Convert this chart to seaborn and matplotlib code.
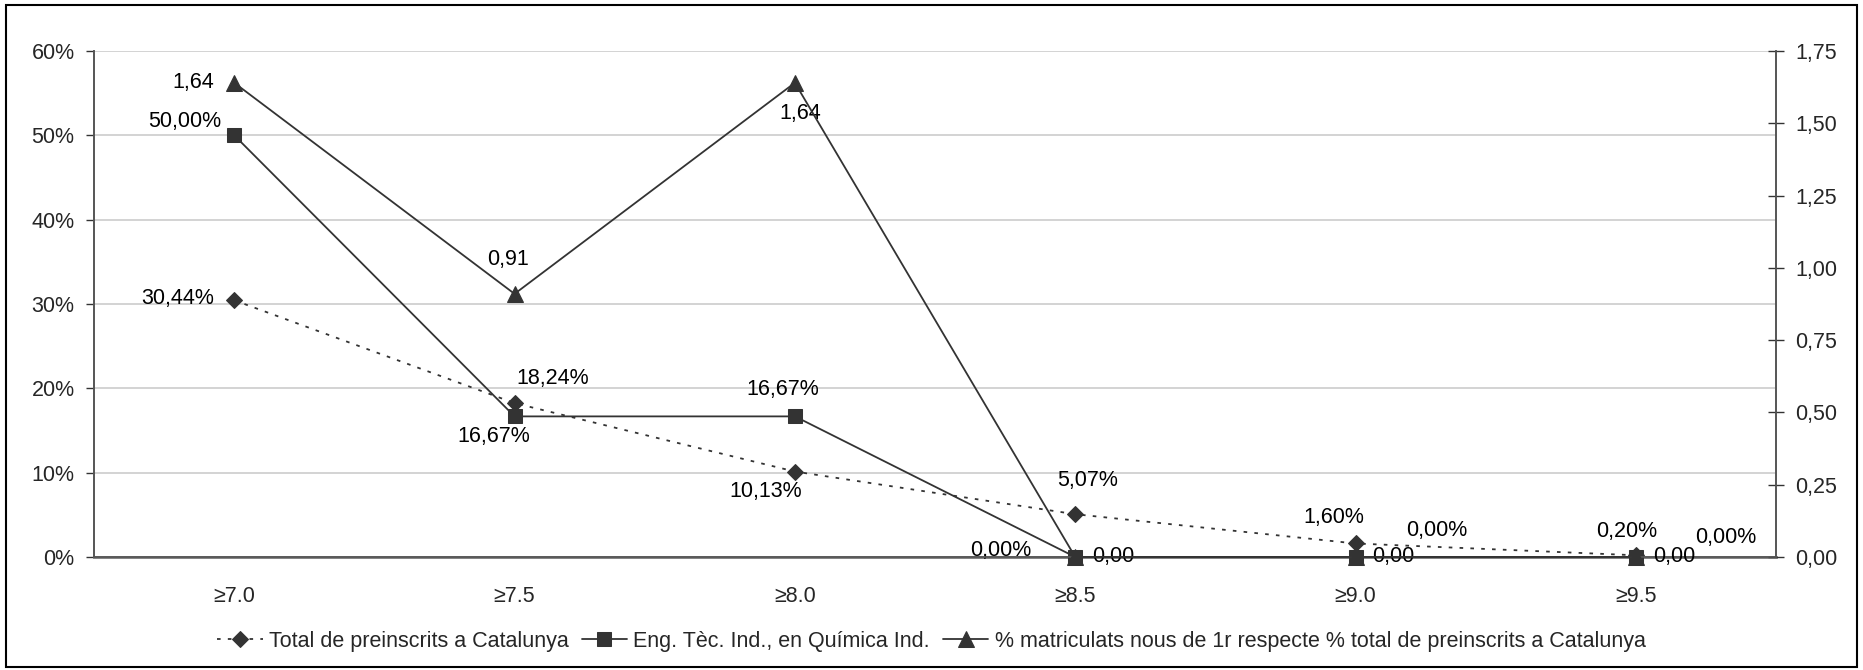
import matplotlib
matplotlib.use("Agg")
import matplotlib.pyplot as plt
import matplotlib.ticker as mticker
from matplotlib.patches import Rectangle
import seaborn as sns

# data
categories = ["≥7.0", "≥7.5", "≥8.0", "≥8.5", "≥9.0", "≥9.5"]
total_catalunya = [30.44, 18.24, 10.13, 5.07, 1.60, 0.20]
eng_quimica = [50.00, 16.67, 16.67, 0.00, 0.00, 0.00]
ratio_matriculats = [1.64, 0.91, 1.64, 0.00, 0.00, 0.00]

series_names = [
    "Total de preinscrits a Catalunya",
    "Eng. Tèc. Ind., en Química Ind.",
    "% matriculats nous de 1r respecte % total de preinscrits a Catalunya",
]

# label offsets in pixels (dx, dy, ha) for each point
total_offsets = [(-20, 2, "right"), (38, 25, "center"), (-29, -20, "center"),
                 (12, 34, "center"), (-22, 26, "center"), (-9, 24, "center")]
eng_offsets = [(-13, 14, "right"), (-21, -20, "center"), (-12, 27, "center"),
               (-44, 6, "right"), (81, 26, "center"), (90, 19, "center")]
ratio_offsets = [(-20, 0, "right"), (-7, 34, "center"), (5, -31, "center"),
                 (17, 0, "left"), (17, 0, "left"), (17, 0, "left")]

FS = 15.5

sns.set_style("white")
plt.rcParams["font.family"] = ["Liberation Sans", "DejaVu Sans"]
plt.rcParams["font.size"] = FS

dark = "#333333"
fig = plt.figure(figsize=(18.63, 6.70), dpi=100)
ax = fig.add_axes([0.0505, 0.1687, 0.9028, 0.7552])
ax2 = ax.twinx()

x = list(range(len(categories)))

sns.lineplot(x=x, y=total_catalunya, ax=ax, color=dark, marker="D", markersize=8,
             linestyle=(0, (2, 4)), linewidth=1.3, markeredgecolor=dark,
             label=series_names[0], legend=False, clip_on=False, zorder=4)
sns.lineplot(x=x, y=eng_quimica, ax=ax, color=dark, marker="s", markersize=9.5,
             linewidth=1.3, markeredgecolor=dark, label=series_names[1], legend=False,
             clip_on=False, zorder=4)
sns.lineplot(x=x, y=ratio_matriculats, ax=ax2, color=dark, marker="^", markersize=11,
             linewidth=1.3, markeredgecolor=dark, label=series_names[2], legend=False,
             clip_on=False, zorder=4)

def fmt(v):
    return f"{v:.2f}".replace(".", ",")

for xi, v, (dx, dy, ha) in zip(x, total_catalunya, total_offsets):
    ax.annotate(fmt(v) + "%", (xi, v), xytext=(dx, dy), textcoords="offset pixels",
                ha=ha, va="center", fontsize=FS, color="black")
for xi, v, (dx, dy, ha) in zip(x, eng_quimica, eng_offsets):
    ax.annotate(fmt(v) + "%", (xi, v), xytext=(dx, dy), textcoords="offset pixels",
                ha=ha, va="center", fontsize=FS, color="black")
for xi, v, (dx, dy, ha) in zip(x, ratio_matriculats, ratio_offsets):
    ax2.annotate(fmt(v), (xi, v), xytext=(dx, dy), textcoords="offset pixels",
                 ha=ha, va="center", fontsize=FS, color="black")

# axes
ax.set_xlim(-0.5, len(categories) - 0.5)
ax.set_ylim(0, 60)
ax2.set_ylim(0, 1.75)
ax.set_yticks(range(0, 61, 10))
ax.yaxis.set_major_formatter(mticker.FuncFormatter(lambda v, p: f"{v:.0f}%"))
ax2.set_yticks([i * 0.25 for i in range(8)])
ax2.yaxis.set_major_formatter(mticker.FuncFormatter(lambda v, p: fmt(v)))

ax.set_xticks(x)
ax.set_xticklabels(categories)
ax.set_xticks([i + 0.5 for i in range(len(categories) - 1)], minor=True)
ax.tick_params(axis="x", which="major", length=0, pad=21, labelsize=FS)
ax.tick_params(axis="x", which="minor", length=7, width=1, color=dark, direction="out")
ax.tick_params(axis="y", length=6, width=1, color=dark, direction="out", pad=8, labelsize=FS, left=True)
ax2.tick_params(axis="y", length=12, width=1, color=dark, direction="inout", pad=8, labelsize=FS, right=True)

ax.grid(axis="y", color="#cccccc", linewidth=1.2)
ax.set_axisbelow(True)
ax.set_xlabel("")
ax.set_ylabel("")
ax2.set_ylabel("")

for a in (ax, ax2):
    a.spines["top"].set_visible(False)
    for s in ("left", "right", "bottom"):
        a.spines[s].set_color("#555555")
        a.spines[s].set_linewidth(1.2)
ax.spines["bottom"].set_linewidth(2.0)
ax.spines["bottom"].set_color("#777777")

# legend
h1, l1 = ax.get_legend_handles_labels()
h2, l2 = ax2.get_legend_handles_labels()
fig.legend(h1 + h2, l1 + l2, loc="center", bbox_to_anchor=(0.5, 0.043), ncol=3,
           frameon=False, fontsize=FS, handlelength=2.1, handletextpad=0.3,
           columnspacing=0.6, numpoints=1)

# outer frame
fig.patches.append(Rectangle((0.003, 0.005), 0.994, 0.988, transform=fig.transFigure,
                             fill=False, edgecolor="black", linewidth=1.5))

fig.savefig("out.png", dpi=100)
